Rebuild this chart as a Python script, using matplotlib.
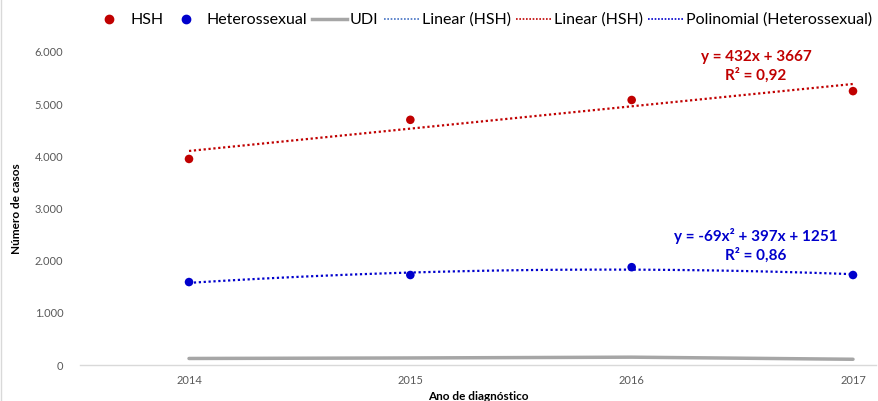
import matplotlib
matplotlib.use("Agg")
import matplotlib.pyplot as plt
import numpy as np
from matplotlib.lines import Line2D

plt.rcParams['font.family'] = ['Lato', 'DejaVu Sans']

years = [2014, 2015, 2016, 2017]
hsh = [3950, 4700, 5080, 5250]
hetero = [1590, 1725, 1875, 1725]
udi = [125, 135, 150, 110]
yticks = [0, 1000, 2000, 3000, 4000, 5000, 6000]
ytick_labels = ["0", "1.000", "2.000", "3.000", "4.000", "5.000", "6.000"]

fig = plt.figure(figsize=(8.79, 4.01), dpi=100)
ax = fig.add_axes([80/879, 1-365/401, (876-80)/879, (365-52)/401])

x = np.array(years, dtype=float)
idx = np.arange(1, len(years)+1)

# trendlines
lin = np.polyfit(idx, hsh, 1)
xs = np.linspace(1, 4, 100)
xs_years = xs + years[0] - 1
ax.plot(xs_years, np.polyval(lin, xs), color='#C00000', lw=1.6, ls=(0, (1, 1.2)), zorder=2)
poly = np.polyfit(idx, hetero, 2)
ax.plot(xs_years, np.polyval(poly, xs), color='#0000CC', lw=1.6, ls=(0, (1, 1.2)), zorder=2)

ax.plot(x, udi, color='#A6A6A6', lw=2.5, zorder=2, solid_capstyle='round')
ax.scatter(x, hsh, color='#C00000', s=38, zorder=3, edgecolors='none')
ax.scatter(x, hetero, color='#0000CC', s=38, zorder=3, edgecolors='none')

ax.set_xlim(2014 - (189-80)/221.3, 2017 + (876-853)/221.3)
ax.set_ylim(0, 6000)
ax.set_xticks(years)
ax.set_xticklabels([str(y) for y in years])
ax.set_yticks(yticks)
ax.set_yticklabels(ytick_labels)
ax.tick_params(axis='both', length=0, labelsize=8, colors='#595959')
ax.tick_params(axis='x', pad=7)
ax.tick_params(axis='y', pad=12)
for s in ['top', 'right', 'left']:
    ax.spines[s].set_visible(False)
ax.spines['bottom'].set_color('#D9D9D9')
ax.spines['bottom'].set_linewidth(1)

ax.set_xlabel('Ano de diagnóstico', fontsize=8.5, fontweight='bold', labelpad=4)
ax.set_ylabel('Número de casos', fontsize=8.5, fontweight='bold', labelpad=9)

ax.text(2016.562, 5904, 'y = 432x + 3667', color='#C00000', fontsize=11,
        fontweight='bold', ha='center', va='center')
ax.text(2016.562, 5559, 'R² = 0,92', color='#C00000', fontsize=11,
        fontweight='bold', ha='center', va='center')
ax.text(2016.562, 2473, 'y = -69x² + 397x + 1251', color='#0000CC', fontsize=11,
        fontweight='bold', ha='center', va='center')
ax.text(2016.562, 2108, 'R² = 0,86', color='#0000CC', fontsize=11,
        fontweight='bold', ha='center', va='center')

handles = [
    Line2D([], [], ls='none', marker='o', color='#C00000', markersize=6),
    Line2D([], [], ls='none', marker='o', color='#0000CC', markersize=6),
    Line2D([], [], color='#A6A6A6', lw=2.5),
    Line2D([], [], color='#4472C4', lw=1.2, ls=(0, (1, 1))),
    Line2D([], [], color='#C00000', lw=1.2, ls=(0, (1, 1))),
    Line2D([], [], color='#0000CC', lw=1.2, ls=(0, (1, 1))),
]
labels = ['HSH', 'Heterossexual', 'UDI', 'Linear (HSH)', 'Linear (HSH)', 'Polinomial (Heterossexual)']
fig.legend(handles, labels, loc='center', bbox_to_anchor=(482/879, 1-20/401), ncol=6,
           frameon=False, fontsize=11.5, handlelength=2.2, handletextpad=0.2,
           columnspacing=0.3, borderpad=0, borderaxespad=0)

# chart border on left
fig.add_artist(Line2D([1.5/879, 1.5/879], [0, 1], color='#D9D9D9', lw=1, transform=fig.transFigure))

fig.savefig('out.png', dpi=100)
